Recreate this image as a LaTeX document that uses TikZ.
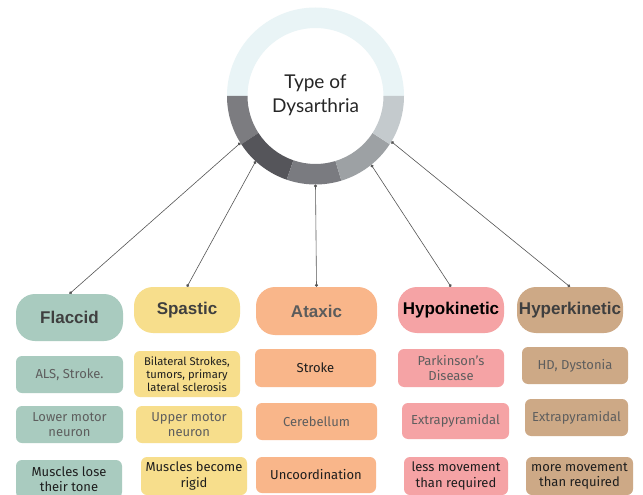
\documentclass[tikz,border=0pt]{standalone}
\usepackage{fontspec}
\setmainfont{Fira Sans}
\newfontfamily\headfont{Liberation Sans}
\newfontfamily\titlefont{Lato}
\usetikzlibrary{arrows.meta,calc}
\definecolor{cgreen}{HTML}{A9CBBF}
\definecolor{cyellow}{HTML}{F7DE8C}
\definecolor{corange}{HTML}{F9B68A}
\definecolor{cpink}{HTML}{F5A3A5}
\definecolor{ctan}{HTML}{CDA986}
\definecolor{ringtop}{HTML}{E9F4F6}
\definecolor{segA}{HTML}{7C7C80}
\definecolor{segB}{HTML}{55555A}
\definecolor{segC}{HTML}{7A7B80}
\definecolor{segD}{HTML}{9DA1A4}
\definecolor{segE}{HTML}{C4CACD}
\definecolor{txtgray}{HTML}{5E5E5E}
\definecolor{txtdark}{HTML}{1E1E1E}
\definecolor{headgray}{HTML}{3F3F3F}
\definecolor{linecol}{HTML}{555555}
\tikzset{
  head/.style={rounded corners=19pt, inner sep=0pt, align=center,
    font=\headfont\bfseries\fontsize{17}{20}\selectfont, text=headgray},
  item/.style={rounded corners=6pt, inner sep=0pt, align=center,
    font=\fontsize{13}{15.5}\selectfont, text=txtgray},
  darkitem/.style={item, text=txtdark},
  conn/.style={draw=linecol, line width=0.6pt, {Circle[length=3pt]}-{Circle[length=3pt]}},
}
\newcommand{\seg}[4]{% color, a1, a2
  \fill[#1] ($(c)+(#2:88.5)$) arc[start angle=#2, end angle=#3, radius=88.5]
    -- ($(c)+(#3:68)$) arc[start angle=#3, end angle=#2, radius=68] -- cycle;}
\begin{document}
\begin{tikzpicture}[x=1pt,y=-1pt]
\useasboundingbox (0,0) rectangle (643,495);
\fill[white] (0,0) rectangle (643,495);
\coordinate (c) at (315.5,96);
% ring
\seg{ringtop}{180}{360}{}
\seg{segA}{147}{180}{}
\seg{segB}{109}{147}{}
\seg{segC}{73}{109}{}
\seg{segD}{33}{73}{}
\seg{segE}{0}{33}{}
\node[font=\titlefont\fontsize{19}{24}\selectfont, align=center, text=black!85] (title) at (315.5,95) {Type of\\Dysarthria};
% ring anchor points
\coordinate (r1) at ($(c)+(148:88.5)$);
\coordinate (r2) at ($(c)+(132.5:88.5)$);
\coordinate (r3) at ($(c)+(90:88.5)$);
\coordinate (r4) at ($(c)+(51:88.5)$);
\coordinate (r5) at ($(c)+(31:88.5)$);
% headings
\node[head, fill=cgreen, minimum width=107pt, minimum height=47pt] (h1) at (69.5,317.5) {Flaccid};
\node[head, fill=cyellow, minimum width=106pt, minimum height=46pt] (h2) at (187,310) {Spastic};
\node[head, fill=corange, minimum width=121pt, minimum height=48pt, text=headgray!85] (h3) at (316.5,311) {Ataxic};
\node[head, fill=cpink, minimum width=106pt, minimum height=46pt, text=black] (h4) at (451,310) {Hypokinetic};
\node[head, fill=ctan, minimum width=106pt, minimum height=46pt] (h5) at (570,310) {Hyperkinetic};
% row 1
\node[item, fill=cgreen, minimum width=107pt, minimum height=37pt] (a1) at (69.5,374.5) {ALS, Stroke.};
\node[darkitem, fill=cyellow, minimum width=106pt, minimum height=46pt, font=\fontsize{11.2}{12.8}\selectfont] (a2) at (187,374) {Bilateral Strokes,\\tumors, primary\\lateral sclerosis};
\node[darkitem, fill=corange, minimum width=121pt, minimum height=38pt] (a3) at (315.5,368) {Stroke};
\node[item, fill=cpink, minimum width=106pt, minimum height=38pt] (a4) at (451,368) {Parkinson's\\Disease};
\node[item, fill=ctan, minimum width=106pt, minimum height=37pt] (a5) at (575,365.5) {HD, Dystonia};
% row 2
\node[item, fill=cgreen, minimum width=107pt, minimum height=37pt] (b1) at (69.5,424.5) {Lower motor\\neuron};
\node[item, fill=cyellow, minimum width=106pt, minimum height=37pt] (b2) at (189,424.5) {Upper motor\\neuron};
\node[item, fill=corange, minimum width=121pt, minimum height=37pt] (b3) at (316.5,421.5) {Cerebellum};
\node[item, fill=cpink, minimum width=107pt, minimum height=36pt] (b4) at (455.5,421) {Extrapyramidal};
\node[item, fill=ctan, minimum width=103pt, minimum height=37pt] (b5) at (576.5,417.5) {Extrapyramidal};
% row 3
\node[darkitem, fill=cgreen, minimum width=106pt, minimum height=38pt] (d1) at (69,479) {Muscles lose\\their tone};
\node[darkitem, fill=cyellow, minimum width=106pt, minimum height=38pt] (d2) at (194,476) {Muscles become\\rigid};
\node[darkitem, fill=corange, minimum width=120pt, minimum height=36pt] (d3) at (316,475) {Uncoordination};
\node[darkitem, fill=cpink, minimum width=104pt, minimum height=38pt] (d4) at (456,476) {less movement\\than required};
\node[darkitem, fill=ctan, minimum width=107pt, minimum height=38pt] (d5) at (579.5,476) {more movement\\than required};
% connectors
\draw[conn] (r1) -- (h1.north);
\draw[conn] (r2) -- (h2.north);
\draw[conn] (r3) -- (h3.north);
\draw[conn] (r4) -- (h4.north);
\draw[conn] (r5) -- (h5.north);
\end{tikzpicture}
\end{document}
